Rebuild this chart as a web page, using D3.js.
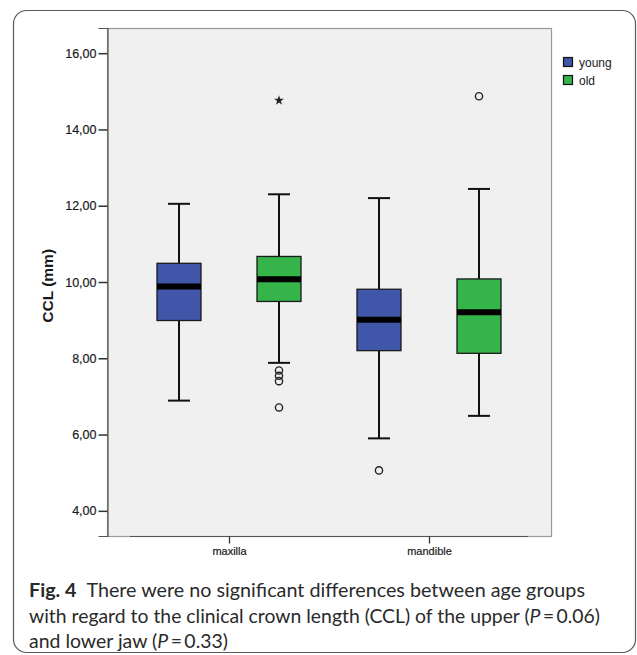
<!DOCTYPE html>
<html>
<head>
<meta charset="utf-8">
<script src="https://cdn.jsdelivr.net/npm/d3@7"></script>
<style>
  html, body { margin: 0; padding: 0; background: #fff; }
  svg { display: block; }
</style>
</head>
<body>
<svg id="chart" width="637" height="655"></svg>
<script>
// ---- data ----
const categories = ["maxilla", "mandible"];
const groups = ["young", "old"];
const groupColors = ["#3f56a9", "#35b44a"];
// [whiskerLow, q1, median, q3, whiskerHigh]
const maxillaYoung = [6.89, 8.99, 9.88, 10.49, 12.05];
const maxillaOld = [7.88, 9.49, 10.07, 10.67, 12.30];
const mandibleYoung = [5.90, 8.20, 9.01, 9.81, 12.20];
const mandibleOld = [6.49, 8.13, 9.21, 10.08, 12.44];
const maxillaYoungOutliers = [];
const maxillaOldOutliers = [7.68, 7.54, 7.40, 6.71];
const maxillaOldExtremes = [14.76];
const mandibleYoungOutliers = [5.06];
const mandibleOldOutliers = [14.87];
const mandibleOldExtremes = [];
const yTicks = [4, 6, 8, 10, 12, 14, 16];
const yTitle = "CCL (mm)";

const boxes = [
  { cat: "maxilla", grp: "young", s: maxillaYoung, out: maxillaYoungOutliers, ext: [] },
  { cat: "maxilla", grp: "old", s: maxillaOld, out: maxillaOldOutliers, ext: maxillaOldExtremes },
  { cat: "mandible", grp: "young", s: mandibleYoung, out: mandibleYoungOutliers, ext: [] },
  { cat: "mandible", grp: "old", s: mandibleOld, out: mandibleOldOutliers, ext: mandibleOldExtremes }
];

const svg = d3.select("#chart");

// outer frame
svg.append("rect")
  .attr("x", 13.5).attr("y", 10.5).attr("width", 622).attr("height", 642)
  .attr("rx", 13).attr("fill", "#fff").attr("stroke", "#5a5a5a").attr("stroke-width", 1.2);

const plot = { left: 107, right: 551, top: 28, bottom: 536 };

const y = d3.scaleLinear().domain([3.34, 16.66]).range([plot.bottom, plot.top]);
const x = d3.scalePoint().domain(categories).range([plot.left, plot.right]).padding(0.61);
const xg = d3.scalePoint().domain(groups).range([-50, 50]);
const boxW = 44;

// plot background
svg.append("rect")
  .attr("x", plot.left + 0.5).attr("y", plot.top + 0.5)
  .attr("width", plot.right - plot.left).attr("height", plot.bottom - plot.top)
  .attr("fill", "#f0f0f0").attr("stroke", "#9a9a9a").attr("stroke-width", 1.2);

// bottom axis line (darker)
svg.append("line")
  .attr("x1", 130).attr("x2", 528).attr("y1", plot.bottom + 0.5).attr("y2", plot.bottom + 0.5)
  .attr("stroke", "#555").attr("stroke-width", 1.2);

// y axis
const yAxis = d3.axisLeft(y).tickValues(yTicks).tickSize(9).tickPadding(2)
  .tickFormat(d => d3.format(".2f")(d).replace(".", ","));
const yg = svg.append("g").attr("transform", `translate(${plot.left + 0.5},0)`).call(yAxis);
yg.select(".domain").attr("stroke", "#555").attr("stroke-width", 1.2);
yg.selectAll(".tick line").attr("stroke", "#333").attr("stroke-width", 1.5);
yg.selectAll(".tick text").attr("font-family", "Arial, 'Liberation Sans', sans-serif")
  .attr("font-size", 12.5).attr("fill", "#1a1a1a").attr("stroke", "#1a1a1a").attr("stroke-width", 0.2);

// x axis
const xAxis = d3.axisBottom(x).tickSize(7).tickPadding(4);
const xgEl = svg.append("g").attr("transform", `translate(0,${plot.bottom + 0.5})`).call(xAxis);
xgEl.select(".domain").remove();
xgEl.selectAll(".tick line").attr("stroke", "#333").attr("stroke-width", 1.3);
xgEl.selectAll(".tick text").attr("font-family", "'Liberation Sans Narrow', Arial, sans-serif")
  .attr("font-size", 11).attr("fill", "#1a1a1a").attr("stroke", "#1a1a1a").attr("stroke-width", 0.2);

// y title
svg.append("text")
  .attr("transform", `translate(53,${y(9.9)}) rotate(-90)`)
  .attr("text-anchor", "middle")
  .attr("font-family", "Arial, 'Liberation Sans', sans-serif")
  .attr("font-weight", "bold").attr("font-size", 15.5).attr("fill", "#1a1a1a")
  .text(yTitle);

// boxes
const bg = svg.append("g");
boxes.forEach(b => {
  const cx = x(b.cat) + xg(b.grp);
  const col = groupColors[groups.indexOf(b.grp)];
  const g = bg.append("g");
  // whiskers
  g.append("line").attr("x1", cx).attr("x2", cx).attr("y1", y(b.s[0])).attr("y2", y(b.s[1]))
    .attr("stroke", "#111").attr("stroke-width", 2);
  g.append("line").attr("x1", cx).attr("x2", cx).attr("y1", y(b.s[3])).attr("y2", y(b.s[4]))
    .attr("stroke", "#111").attr("stroke-width", 2);
  [b.s[0], b.s[4]].forEach(v => {
    g.append("line").attr("x1", cx - 11).attr("x2", cx + 11).attr("y1", y(v)).attr("y2", y(v))
      .attr("stroke", "#111").attr("stroke-width", 2);
  });
  // box
  g.append("rect").attr("x", cx - boxW / 2).attr("y", y(b.s[3]))
    .attr("width", boxW).attr("height", y(b.s[1]) - y(b.s[3]))
    .attr("fill", col).attr("stroke", "#1a1a1a").attr("stroke-width", 1.3);
  // median
  g.append("line").attr("x1", cx - boxW / 2).attr("x2", cx + boxW / 2)
    .attr("y1", y(b.s[2])).attr("y2", y(b.s[2]))
    .attr("stroke", "#000").attr("stroke-width", 6);
  // outliers
  b.out.forEach(v => {
    g.append("circle").attr("cx", cx).attr("cy", y(v)).attr("r", 3.6)
      .attr("fill", "none").attr("stroke", "#222").attr("stroke-width", 1.4);
  });
  b.ext.forEach(v => {
    g.append("path").attr("d", d3.symbol(d3.symbolStar, 30)())
      .attr("transform", `translate(${cx},${y(v)})`).attr("fill", "#222");
  });
});

// legend
const lg = svg.append("g").attr("transform", "translate(563,57)");
groups.forEach((gname, i) => {
  lg.append("rect").attr("x", 0.5).attr("y", i * 18 + 0.5).attr("width", 9).attr("height", 9)
    .attr("fill", groupColors[i]).attr("stroke", "#111").attr("stroke-width", 1.2);
  lg.append("text").attr("x", 16).attr("y", i * 18 + 9.5)
    .attr("font-family", "Arial, 'Liberation Sans', sans-serif").attr("font-size", 12).attr("fill", "#1a1a1a")
    .text(gname);
});

// caption
const capFont = "Lato, 'Open Sans', sans-serif";
const cap = svg.append("g").attr("font-family", capFont).attr("font-size", 19).attr("fill", "#2a2a2a");
const l1 = cap.append("text").attr("x", 29).attr("y", 597)
  .attr("textLength", 556).attr("lengthAdjust", "spacingAndGlyphs");
l1.append("tspan").attr("font-weight", "bold").text("Fig. 4");
l1.append("tspan").text("\u2002There were no significant differences between age groups");
const l2 = cap.append("text").attr("x", 29).attr("y", 623)
  .attr("textLength", 571).attr("lengthAdjust", "spacingAndGlyphs");
l2.append("tspan").text("with regard to the clinical crown length (CCL) of the upper (");
l2.append("tspan").attr("font-style", "italic").text("P");
l2.append("tspan").text("\u2009=\u20090.06)");
const l3 = cap.append("text").attr("x", 29).attr("y", 648)
  .attr("textLength", 199).attr("lengthAdjust", "spacingAndGlyphs");
l3.append("tspan").text("and lower jaw (");
l3.append("tspan").attr("font-style", "italic").text("P");
l3.append("tspan").text("\u2009=\u20090.33)");
</script>
</body>
</html>
